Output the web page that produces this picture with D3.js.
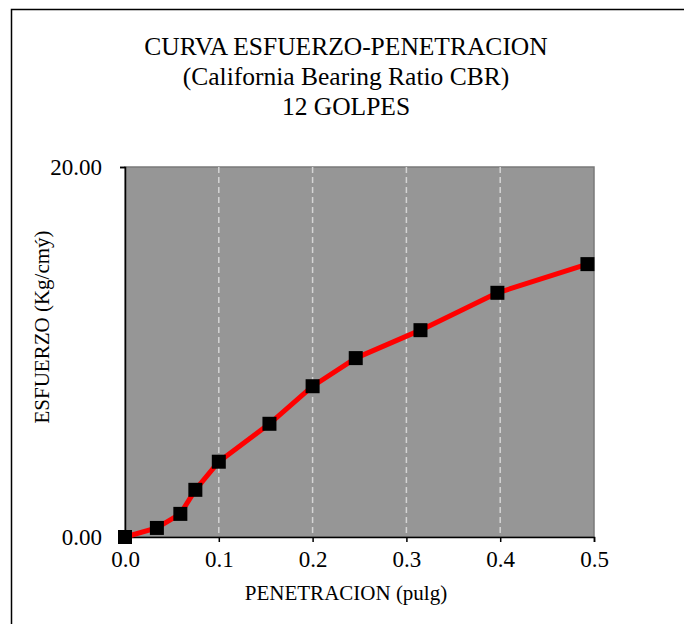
<!DOCTYPE html>
<html>
<head>
<meta charset="utf-8">
<script src="https://cdn.jsdelivr.net/npm/d3@7"></script>
<style>
  html, body { margin: 0; padding: 0; background: #fff; }
  svg { display: block; }
  text { font-family: "Liberation Serif", "Times New Roman", serif; }
</style>
</head>
<body>
<svg id="chart" width="684" height="624"></svg>
<script>
// CBR stress-penetration curve, 12 blows
const penetration = [0, 0.034, 0.059, 0.075, 0.100, 0.154, 0.200, 0.246, 0.315, 0.397, 0.493];
const stress      = [0, 0.49, 1.25, 2.55, 4.07, 6.12, 8.15, 9.67, 11.18, 13.20, 14.75];
const xTicks = [0, 0.1, 0.2, 0.3, 0.4, 0.5];
const yTicks = [0, 20];
const titleLines = ["CURVA ESFUERZO-PENETRACION", "(California Bearing Ratio CBR)", "12 GOLPES"];
const xLabel = "PENETRACION (pulg)";
const yLabel = "ESFUERZO (Kg/cmý)";

const FONT = "Liberation Serif";
const svg = d3.select("#chart");
const plot = { left: 125, right: 594, top: 167, bottom: 537 };

const x = d3.scaleLinear().domain([0, 0.5]).range([plot.left, plot.right]);
const y = d3.scaleLinear().domain([0, 20]).range([plot.bottom, plot.top]);

// outer frame
svg.append("path")
  .attr("d", "M11.5,700 V9.5 H700")
  .attr("fill", "none").attr("stroke", "#000").attr("stroke-width", 1.5);

// title
svg.append("g").selectAll("text").data(titleLines).join("text")
  .attr("x", 346).attr("y", (d, i) => 55 + i * 30)
  .attr("text-anchor", "middle")
  .attr("font-family", FONT)
  .attr("font-size", 25.5).attr("fill", "#000")
  .text(d => d);

// plot background
svg.append("rect")
  .attr("x", plot.left).attr("y", plot.top)
  .attr("width", plot.right - plot.left).attr("height", plot.bottom - plot.top)
  .attr("fill", "#969696").attr("stroke", "#7a7a7a").attr("stroke-width", 1.5);

// vertical dashed gridlines
svg.append("g").selectAll("line").data(xTicks.slice(1, -1)).join("line")
  .attr("x1", d => x(d)).attr("x2", d => x(d))
  .attr("y1", plot.top).attr("y2", plot.bottom)
  .attr("stroke", "#d4d4d4").attr("stroke-width", 1.5)
  .attr("stroke-dasharray", "6,4");

// axes
const xAxis = d3.axisBottom(x).tickValues(xTicks).tickFormat(d3.format(".1f"))
  .tickSize(5).tickPadding(9);
const gx = svg.append("g").attr("transform", `translate(0,${plot.bottom})`).call(xAxis);
gx.select(".domain").attr("stroke", "#000").attr("stroke-width", 1.5);
gx.selectAll(".tick line").attr("stroke", "#000").attr("stroke-width", 1.5);
gx.selectAll(".tick text").attr("font-family", FONT).attr("font-size", 23).attr("fill", "#000");
gx.attr("font-family", FONT);

const yAxis = d3.axisLeft(y).tickValues(yTicks).tickFormat(d3.format(".2f"))
  .tickSize(5).tickPadding(18);
const gy = svg.append("g").attr("transform", `translate(${plot.left},0)`).call(yAxis);
gy.select(".domain").attr("stroke", "#000").attr("stroke-width", 1.5);
gy.selectAll(".tick line").attr("stroke", "#000").attr("stroke-width", 1.5);
gy.selectAll(".tick text").attr("font-family", FONT).attr("font-size", 23).attr("fill", "#000");
gy.attr("font-family", FONT);

// axis titles
svg.append("text")
  .attr("x", 346).attr("y", 600)
  .attr("text-anchor", "middle").attr("font-family", FONT)
  .attr("font-size", 21).attr("fill", "#000")
  .text(xLabel);
svg.append("text")
  .attr("transform", "translate(49,327) rotate(-90)")
  .attr("text-anchor", "middle").attr("font-family", FONT)
  .attr("font-size", 21).attr("fill", "#000")
  .text(yLabel);

// curve
const pts = penetration.map((p, i) => [p, stress[i]]);
svg.append("path")
  .datum(pts)
  .attr("d", d3.line().x(d => x(d[0])).y(d => y(d[1])))
  .attr("fill", "none").attr("stroke", "#ff0000").attr("stroke-width", 5)
  .attr("stroke-linejoin", "round");

// markers
const s = 14;
svg.append("g").selectAll("rect").data(pts).join("rect")
  .attr("x", d => x(d[0]) - s / 2).attr("y", d => y(d[1]) - s / 2)
  .attr("width", s).attr("height", s)
  .attr("fill", "#000");
</script>
</body>
</html>
